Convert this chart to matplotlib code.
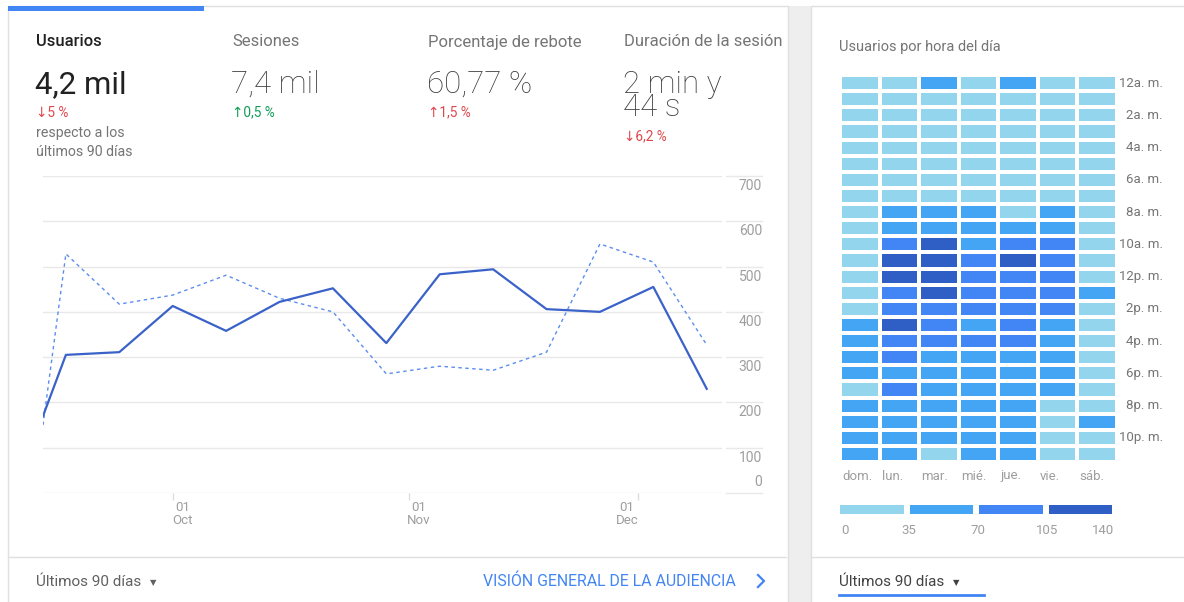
import matplotlib.pyplot as plt
import matplotlib.patches as mpatches
from matplotlib.colors import ListedColormap, BoundaryNorm
import numpy as np

plt.rcParams['font.family'] = ['Roboto', 'DejaVu Sans']

W, H = 1184, 602

# ---- line chart data (weekly users, current vs previous period) ----
dates = np.array(['2019-09-14', '2019-09-17', '2019-09-24', '2019-10-01', '2019-10-08',
                  '2019-10-15', '2019-10-22', '2019-10-29', '2019-11-05', '2019-11-12',
                  '2019-11-19', '2019-11-26', '2019-12-03', '2019-12-10'], dtype='datetime64[D]')
users_now = [170, 305, 311, 413, 358, 422, 452, 331, 483, 494, 406, 400, 455, 230]
users_prev = [150, 528, 417, 437, 481, 430, 400, 263, 280, 271, 311, 550, 510, 327]
y_ticks = [0, 100, 200, 300, 400, 500, 600, 700]
month_ticks = np.array(['2019-10-01', '2019-11-01', '2019-12-01'], dtype='datetime64[D]')
month_labels = ['01\nOct', '01\nNov', '01\nDec']

# ---- KPI cards ----
kpi_names = ['Usuarios', 'Sesiones', 'Porcentaje de rebote', 'Duración de la sesión']
kpi_values = ['4,2 mil', '7,4 mil', '60,77 %', '2 min y\n44 s']
kpi_changes = ['↓5 %', '↑0,5 %', '↑1,5 %', '↓6,2 %']
kpi_good = [False, True, False, False]

# ---- heatmap: users per hour (rows) x weekday (cols) ----
days = ['dom.', 'lun.', 'mar.', 'mié.', 'jue.', 'vie.', 'sáb.']
hour_labels = ['12a. m.', '2a. m.', '4a. m.', '6a. m.', '8a. m.', '10a. m.',
               '12p. m.', '2p. m.', '4p. m.', '6p. m.', '8p. m.', '10p. m.']
hourly = np.array([
    [22, 26, 48, 25, 52, 20, 18],
    [16, 18, 20, 17, 19, 15, 14],
    [12, 14, 15, 13, 14, 12, 11],
    [10, 11, 12, 10, 12, 9, 9],
    [8, 10, 10, 9, 11, 8, 8],
    [9, 11, 12, 10, 12, 9, 8],
    [12, 18, 20, 18, 21, 16, 11],
    [16, 30, 32, 30, 33, 28, 14],
    [22, 55, 58, 56, 33, 52, 18],
    [27, 66, 68, 62, 64, 60, 22],
    [29, 88, 112, 62, 94, 90, 26],
    [31, 110, 118, 98, 108, 96, 30],
    [32, 112, 116, 100, 98, 94, 31],
    [33, 95, 110, 92, 90, 88, 42],
    [34, 90, 96, 92, 94, 90, 30],
    [40, 108, 86, 64, 90, 62, 28],
    [45, 88, 92, 88, 90, 60, 26],
    [48, 82, 64, 62, 66, 60, 24],
    [44, 62, 60, 58, 60, 58, 22],
    [33, 86, 58, 56, 60, 56, 24],
    [46, 58, 56, 54, 58, 32, 26],
    [50, 56, 56, 54, 56, 30, 40],
    [52, 55, 54, 52, 54, 31, 30],
    [45, 48, 32, 50, 52, 28, 27],
])
bin_edges = [0, 35, 70, 105, 140]
bin_colors = ['#93d5ed', '#45a5f5', '#4285f4', '#2f5ec4']

fig = plt.figure(figsize=(W / 100, H / 100), dpi=100)

def px_axes(x0, y0, x1, y1, **kw):
    return fig.add_axes([x0 / W, 1 - y1 / H, (x1 - x0) / W, (y1 - y0) / H], **kw)

# background canvas in pixel coordinates
bg = fig.add_axes([0, 0, 1, 1], zorder=0)
bg.set_xlim(0, W)
bg.set_ylim(H, 0)
bg.axis('off')
bg.add_patch(mpatches.Rectangle((788, 6), 23, H, color='#eeeeee', lw=0))
bg.add_patch(mpatches.Rectangle((8, 6), 780, H, fc='white', ec='#e0e0e0', lw=1))
bg.add_patch(mpatches.Rectangle((811, 6), 400, H, fc='white', ec='#e0e0e0', lw=1))
bg.add_patch(mpatches.Rectangle((8, 6), 196, 5, color='#4285f4', lw=0))
bg.plot([8, 786], [557, 557], color='#e0e0e0', lw=1)
bg.plot([811, W], [557, 557], color='#e0e0e0', lw=1)

# KPI header
for i, name in enumerate(kpi_names):
    x = 36 + i * 196
    sel = i == 0
    bg.text(x, 46.5, name, fontsize=12, color='#212121' if sel else '#757575',
            fontweight='medium' if sel else 'normal', va='baseline')
    lines = kpi_values[i].split('\n')
    for j, ln in enumerate(lines):
        bg.text(x - 1, 93 + j * 23.5, ln, fontsize=22.5, color='#212121' if sel else '#3c3c3c',
                fontweight='normal' if sel else 'light', va='baseline')
    cy = 116.5 + (len(lines) - 1) * 23.5
    bg.text(x, cy, kpi_changes[i], fontsize=9.8,
            color='#0f9d58' if kpi_good[i] else '#e0474c', va='baseline')
bg.text(36, 137.5, 'respecto a los', fontsize=10.2, color='#757575', va='baseline')
bg.text(36, 156.5, 'últimos 90 días', fontsize=10.2, color='#757575', va='baseline')

# footer
bg.text(36, 586, 'Últimos 90 días', fontsize=11, color='#616161', va='baseline')
bg.text(150, 585, '▼', fontsize=6, color='#616161', va='baseline')
bg.text(483, 586, 'VISIÓN GENERAL DE LA AUDIENCIA', fontsize=11.4, color='#4285f4', va='baseline')
bg.plot([758, 764, 758], [575, 581, 587], color='#4285f4', lw=1.6)
bg.text(839, 586, 'Últimos 90 días', fontsize=11, color='#424242', va='baseline')
bg.text(953, 585, '▼', fontsize=6, color='#424242', va='baseline')
bg.plot([839, 984], [595, 595], color='#4285f4', lw=2)
bg.text(839, 51, 'Usuarios por hora del día', fontsize=10.5, color='#757575', va='baseline')

# ---- line chart ----
ax = px_axes(43, 176, 722, 493, zorder=2)
ax.set_facecolor('none')
for v in y_ticks:
    ax.axhline(v, color='#e8e8e8', lw=1, zorder=0)
    ax.axhline(v, xmin=1.006, xmax=1.059, color='#e8e8e8', lw=1, zorder=0, clip_on=False)
    if v == 0:
        ax.annotate(str(v), xy=(1.059, v), xycoords=('axes fraction', 'data'),
                    xytext=(0, 4), textcoords='offset pixels', ha='right', va='bottom',
                    fontsize=10, color='#9e9e9e')
    else:
        ax.annotate(str(v), xy=(1.059, v), xycoords=('axes fraction', 'data'),
                    xytext=(0, -3), textcoords='offset pixels', ha='right', va='top',
                    fontsize=10, color='#9e9e9e')
ax.plot(dates, users_prev, color='#5b8def', lw=1, dashes=(2.5, 2.5), zorder=3)
ax.plot(dates, users_now, color='#3a62c8', lw=1.6, zorder=4)
ax.set_xlim(np.datetime64('2019-09-14'), np.datetime64('2019-12-12'))
ax.set_ylim(0, 700)
ax.set_yticks([])
ax.set_xticks(month_ticks)
ax.set_xticklabels([])
ax.tick_params(axis='x', length=5, color='#dddddd', width=1)
for s in ax.spines.values():
    s.set_visible(False)
for d, lab, dx in zip(month_ticks, month_labels, [10, 9, -11]):
    ax.annotate(lab, xy=(d, 0), xycoords=('data', 'data'), xytext=(dx, -8),
                textcoords='offset pixels', ha='center', va='top', fontsize=9.5,
                color='#9e9e9e', linespacing=1.05)

# ---- heatmap ----
hx = px_axes(840, 75, 1117, 462, zorder=2)
cmap = ListedColormap(bin_colors)
norm = BoundaryNorm(bin_edges, cmap.N)
hx.pcolormesh(np.arange(8), np.arange(25), hourly, cmap=cmap, norm=norm,
              edgecolors='white', linewidth=2.8)
hx.set_xlim(0, 7)
hx.set_ylim(24, 0)
hx.axis('off')
for k, lab in enumerate(hour_labels):
    hx.annotate(lab, xy=(1, 2 * k + 0.5), xycoords=('axes fraction', 'data'),
                xytext=(46, 0), textcoords='offset pixels', ha='right', va='center',
                fontsize=9.5, color='#757575')
for c, lab in enumerate(days):
    hx.annotate(lab, xy=(c, 24), xycoords='data', xytext=(2, -14),
                textcoords='offset pixels', ha='left', va='center',
                fontsize=9.5, color='#9e9e9e')

# legend strip
lx = px_axes(837, 502, 1115, 517, zorder=2)
lx.pcolormesh(bin_edges, [0, 1], np.array([[17.5, 52.5, 87.5, 122.5]]), cmap=cmap,
              norm=norm, edgecolors='white', linewidth=2.9)
lx.set_xlim(0, 140)
lx.set_ylim(0, 1)
lx.axis('off')
for v in bin_edges:
    ha, dx = 'center', 2
    if v == 0:
        ha, dx = 'left', 4
    elif v == 140:
        ha, dx = 'right', -1
    lx.annotate(str(v), xy=(v, 0), xycoords='data', xytext=(dx, -13),
                textcoords='offset pixels', ha=ha, va='center',
                fontsize=9.5, color='#9e9e9e')

fig.savefig('out.png', dpi=100)
